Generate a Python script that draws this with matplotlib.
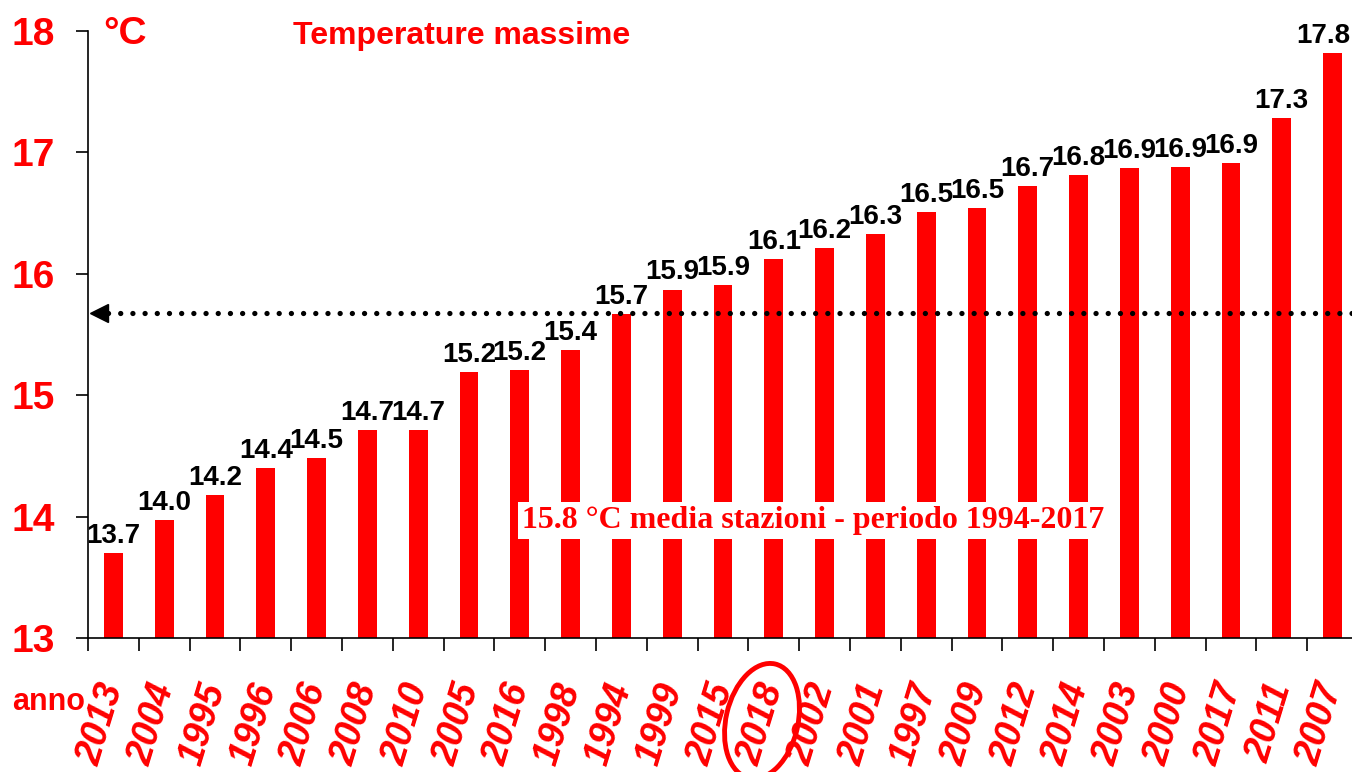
import matplotlib.pyplot as plt
import numpy as np
from matplotlib.patches import Ellipse

years = ["2013", "2004", "1995", "1996", "2006", "2008", "2010", "2005", "2016",
         "1998", "1994", "1999", "2015", "2018", "2002", "2001", "1997", "2009",
         "2012", "2014", "2003", "2000", "2017", "2011", "2007"]
temps = [13.70, 13.97, 14.18, 14.40, 14.48, 14.71, 14.71, 15.19, 15.21,
         15.37, 15.67, 15.87, 15.91, 16.12, 16.21, 16.33, 16.51, 16.54,
         16.72, 16.81, 16.87, 16.88, 16.91, 17.28, 17.82]
labels = ["13.7", "14.0", "14.2", "14.4", "14.5", "14.7", "14.7", "15.2", "15.2",
          "15.4", "15.7", "15.9", "15.9", "16.1", "16.2", "16.3", "16.5", "16.5",
          "16.7", "16.8", "16.9", "16.9", "16.9", "17.3", "17.8"]
mean_ref = 15.68
yticks = [13, 14, 15, 16, 17, 18]

RED = "#ff0000"
SANS = "Liberation Sans"

fig = plt.figure(figsize=(13.52, 7.72), dpi=100)
ax = fig.add_axes([88 / 1352, 134 / 772, 1270 / 1352, 607 / 772])

x = np.arange(len(years))
ax.bar(x, temps, width=0.374, color=RED, zorder=2)
for xi, v, lab in zip(x, temps, labels):
    # last label would run past the right edge: nudge it left
    dx = -7 if xi == len(years) - 1 else 0
    ax.annotate(lab, (xi, v), xytext=(dx, 3), textcoords="offset points",
                ha="center", va="bottom", fontsize=20, fontweight="bold",
                family=SANS, color="black", zorder=4)

ax.set_ylim(13, 18)
ax.set_xlim(-0.5, len(years) - 0.5)

# reference mean: dotted line with arrow head on the left
ax.plot([-0.1, len(years)], [mean_ref, mean_ref], color="black",
        linestyle=(0, (0.01, 2.3)), linewidth=3.8, dash_capstyle="round",
        zorder=3, clip_on=False)
ax.plot([-0.28], [mean_ref], marker="<", color="black", markersize=13, zorder=3,
        clip_on=False)

ax.text(8.04, 13.97, "15.8 °C media stazioni - periodo 1994-2017", ha="left", va="center",
        fontsize=23, fontweight="bold", family="Liberation Serif", color=RED, zorder=5,
        bbox=dict(facecolor="white", edgecolor="none", pad=3))

ax.set_yticks(yticks)
ax.set_yticklabels([str(t) for t in yticks], fontsize=28, fontweight="bold",
                   family=SANS, color=RED)
ax.tick_params(axis="y", direction="out", length=8.6, width=1.2, pad=15)

ax.set_xticks(x)
ax.set_xticklabels(years, rotation=73, rotation_mode="anchor", ha="right", va="center",
                   fontsize=27, fontweight="bold", fontstyle="italic", family=SANS, color=RED)
ax.tick_params(axis="x", which="major", length=0, pad=33)
ax.set_xticks(x - 0.5, minor=True)
ax.tick_params(axis="x", which="minor", direction="out", length=9, width=1.2)

for spine in ("top", "right"):
    ax.spines[spine].set_visible(False)
ax.spines["left"].set_linewidth(1.2)
ax.spines["bottom"].set_linewidth(1.2)

ax.text(0.012, 0.995, "°C", transform=ax.transAxes, ha="left", va="center",
        fontsize=28, fontweight="bold", family=SANS, color=RED)
fig.text(293 / 1352, 1 - 36 / 772, "Temperature massime", ha="left", va="center",
         fontsize=23, fontweight="bold", family=SANS, color=RED)
fig.text(12 / 1352, 1 - 702 / 772, "anno", ha="left", va="center",
         fontsize=22, fontweight="bold", family=SANS, color=RED)

# circle around the current year
fig.patches.append(Ellipse((7.62, 0.51), 0.72, 1.17, angle=-13, fill=False,
                           edgecolor=RED, linewidth=3.5, transform=fig.dpi_scale_trans))

fig.savefig("out.png", dpi=100)
